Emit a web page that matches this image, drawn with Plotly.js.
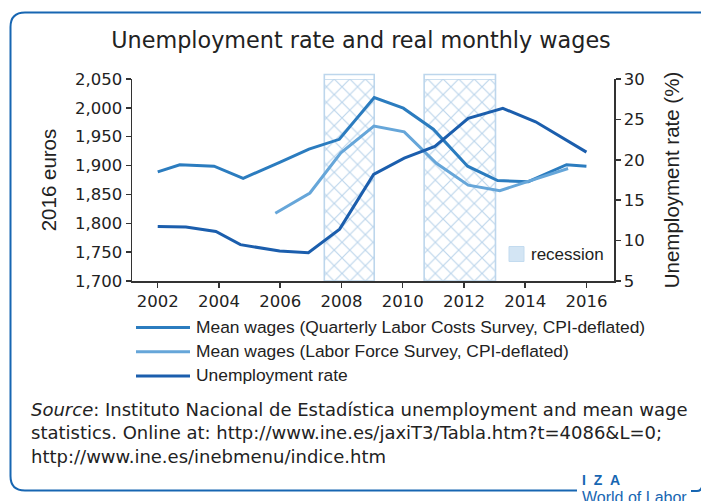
<!DOCTYPE html>
<html>
<head>
<meta charset="utf-8">
<script src="https://cdn.plot.ly/plotly-3.0.1.min.js"></script>
<style>html,body{margin:0;padding:0;background:#fff;}#chart{width:701px;height:501px;}</style>
</head>
<body>
<div id="chart"></div>
<script>
// ---- data ----
var seriesNames = [
  "Mean wages (Quarterly Labor Costs Survey, CPI-deflated)",
  "Mean wages (Labor Force Survey, CPI-deflated)",
  "Unemployment rate"
];
var qlcsYears = [2002, 2002.72, 2003.84, 2004.79, 2006.0, 2006.94, 2007.93, 2009.07, 2010.02, 2011.0, 2012.12, 2013.1, 2014.1, 2015.35, 2016.0];
var qlcsWages = [1889, 1901.5, 1899, 1878, 1906, 1928.5, 1945.5, 2018, 1999.5, 1963, 1899, 1874, 1872, 1901.5, 1899];
var lfsYears = [2005.84, 2006.97, 2007.98, 2009.06, 2010.05, 2011.1, 2012.14, 2013.17, 2014.15, 2015.4];
var lfsWages = [1817.5, 1852.5, 1922, 1968.5, 1958.5, 1904, 1866, 1856.5, 1873.5, 1895];
var unempYears = [2002, 2002.92, 2003.9, 2004.7, 2005.98, 2006.92, 2007.94, 2009.05, 2010.05, 2011.05, 2012.14, 2013.27, 2014.34, 2016.0];
var unempRate = [11.75, 11.68, 11.12, 9.5, 8.7, 8.5, 11.42, 18.2, 20.2, 21.65, 25.12, 26.37, 24.7, 20.95];
var recessionStart = [2007.44, 2010.70];
var recessionEnd = [2009.07, 2013.03];
var leftTicks = [1700, 1750, 1800, 1850, 1900, 1950, 2000, 2050];
var rightTicks = [5, 10, 15, 20, 25, 30];
var yearTicks = [2002, 2004, 2006, 2008, 2010, 2012, 2014, 2016];

// ---- styles ----
var colors = ["#2b7cbf", "#66a6d9", "#1b5ead"];
var hatchColor = "#bdd6ec";
var frameBlue = "#1766b2";
var W = 701, H = 501, ML = 132, MR = 87, MT = 79, MB = 220;
var PW = W - ML - MR, PH = H - MT - MB;
function px(x) { return (x - ML) / PW; }
function py(y) { return (H - MB - y) / PH; }

var recCenters = recessionStart.map(function (s, i) { return (s + recessionEnd[i]) / 2; });
var recWidths = recessionStart.map(function (s, i) { return recessionEnd[i] - s; });
var yMin = leftTicks[0], yMax = leftTicks[leftTicks.length - 1];

var traces = [
  {
    type: "bar", x: recCenters, width: recWidths, base: yMin,
    y: recCenters.map(function () { return yMax - yMin; }),
    yaxis: "y", xaxis: "x", showlegend: false, hoverinfo: "skip",
    marker: {
      color: "white",
      pattern: { shape: "x", fgcolor: hatchColor, bgcolor: "white", size: 11, solidity: 0.2 },
      line: { color: hatchColor, width: 1.6 }
    }
  },
  { type: "scatter", mode: "lines", name: seriesNames[0], x: qlcsYears, y: qlcsWages,
    line: { color: colors[0], width: 3 }, yaxis: "y", showlegend: false },
  { type: "scatter", mode: "lines", name: seriesNames[1], x: lfsYears, y: lfsWages,
    line: { color: colors[1], width: 3 }, yaxis: "y", showlegend: false },
  { type: "scatter", mode: "lines", name: seriesNames[2], x: unempYears, y: unempRate,
    line: { color: colors[2], width: 3 }, yaxis: "y2", showlegend: false }
];

var shapes = [];
var annotations = [];
// small stubs of recession bands above the plot top
recessionStart.forEach(function (s, i) {
  shapes.push({ type: "path", xref: "x", yref: "paper", layer: "above",
    path: "M" + s + ",1 L" + s + ",1.022 L" + recessionEnd[i] + ",1.022 L" + recessionEnd[i] + ",1",
    line: { color: hatchColor, width: 1.6 } });
});
// recession key
shapes.push({ type: "rect", xref: "paper", yref: "paper",
  x0: px(509), x1: px(524), y0: py(261.5), y1: py(246.5),
  fillcolor: "#d3e5f4", line: { color: "#c3dbef", width: 1 } });
annotations.push({ xref: "paper", yref: "paper", x: px(529), y: py(254.5), xanchor: "left", yanchor: "middle",
  text: "recession", showarrow: false, font: { family: "Liberation Sans, Arial, sans-serif", size: 17, color: "#222" } });

// legend rows
var legendY = [326.5, 350.8, 375];
seriesNames.forEach(function (n, i) {
  shapes.push({ type: "line", xref: "paper", yref: "paper",
    x0: px(136), x1: px(190), y0: py(legendY[i] + 1), y1: py(legendY[i] + 1),
    line: { color: colors[i], width: 3 } });
  annotations.push({ xref: "paper", yref: "paper", x: px(194), y: py(legendY[i]), xanchor: "left", yanchor: "middle",
    text: n, showarrow: false, font: { family: "Liberation Sans, Arial, sans-serif", size: 17.4, color: "#222" } });
});

// source note
annotations.push({ xref: "paper", yref: "paper", x: px(29), y: py(433.3), xanchor: "left", yanchor: "middle", align: "left",
  showarrow: false,
  text: "<i>Source</i>: Instituto Nacional de Estadística unemployment and mean wage<br>statistics. Online at: http://www.ine.es/jaxiT3/Tabla.htm?t=4086&L=0;<br>http://www.ine.es/inebmenu/indice.htm",
  font: { family: "DejaVu Sans, sans-serif", size: 18, color: "#222" } });

// IZA logo text
annotations.push({ xref: "paper", yref: "paper", x: px(580), y: py(479.5), xanchor: "left", yanchor: "middle",
  text: "<b>I&nbsp;&nbsp;Z&nbsp;&nbsp;A</b>", showarrow: false, font: { family: "Liberation Sans, Arial, sans-serif", size: 14, color: frameBlue } });
annotations.push({ xref: "paper", yref: "paper", x: px(580), y: py(497), xanchor: "left", yanchor: "middle",
  text: "World of Labor", showarrow: false, font: { family: "Liberation Sans, Arial, sans-serif", size: 16, color: frameBlue } });

// frame
shapes.push({ type: "path", xref: "paper", yref: "paper", layer: "above",
  path: "M" + px(577) + "," + py(490.5) + " L" + px(25) + "," + py(490.5) +
        " Q" + px(10.5) + "," + py(490.5) + " " + px(10.5) + "," + py(476) +
        " L" + px(10.5) + "," + py(27) +
        " Q" + px(10.5) + "," + py(12.5) + " " + px(25) + "," + py(12.5) +
        " L" + px(703) + "," + py(12.5),
  line: { color: frameBlue, width: 2 } });
shapes.push({ type: "path", xref: "paper", yref: "paper", layer: "above",
  path: "M" + px(691) + "," + py(491) + " L" + px(697) + "," + py(491) + " Q" + px(701) + "," + py(491) + " " + px(702) + "," + py(487),
  line: { color: frameBlue, width: 2 } });

var tickFont = { family: "DejaVu Sans, sans-serif", size: 16.5, color: "#222" };
var titleFont = { family: "Liberation Sans, Arial, sans-serif", size: 20.5, color: "#222" };

var layout = {
  width: W, height: H,
  margin: { l: ML, r: MR, t: MT, b: MB, pad: 0 },
  paper_bgcolor: "white", plot_bgcolor: "white",
  showlegend: false,
  barmode: "overlay",
  title: { text: "Unemployment rate and real monthly wages", x: 361 / W, xanchor: "center",
    xref: "container", yref: "container", y: 1 - 40 / H, yanchor: "middle",
    font: { family: "DejaVu Sans, sans-serif", size: 22.3, color: "#222" } },
  xaxis: {
    range: [2001.16, 2016.9], tickvals: yearTicks, ticktext: yearTicks.map(String),
    showgrid: false, zeroline: false, showline: true, linecolor: "#333", linewidth: 1.5,
    ticks: "outside", ticklen: 5, tickwidth: 1.5, tickcolor: "#333", tickfont: tickFont
  },
  yaxis: {
    range: [yMin, yMax], tickvals: leftTicks, tickformat: ",d",
    showgrid: false, zeroline: false, showline: true, linecolor: "#333", linewidth: 1.5,
    ticks: "outside", ticklen: 5, tickwidth: 1.5, tickcolor: "#333", tickfont: tickFont,
    title: { text: "2016 euros", font: titleFont, standoff: 13 }
  },
  yaxis2: {
    overlaying: "y", side: "right", range: [rightTicks[0], rightTicks[rightTicks.length - 1]], tickvals: rightTicks,
    showgrid: false, zeroline: false, showline: true, linecolor: "#333", linewidth: 1.5,
    ticks: "outside", ticklen: 5, tickwidth: 1.5, tickcolor: "#333", tickfont: tickFont,
    title: { text: "Unemployment rate (%)", font: titleFont, standoff: 21 }
  },
  shapes: shapes,
  annotations: annotations
};

Plotly.newPlot("chart", traces, layout, { displayModeBar: false, staticPlot: true });
</script>
</body>
</html>
